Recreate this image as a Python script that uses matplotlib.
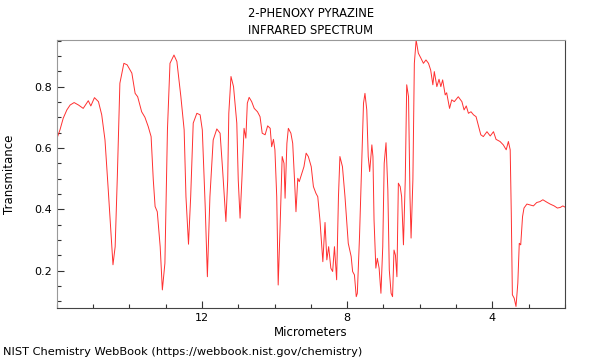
import matplotlib
matplotlib.use("Agg")
from matplotlib import pyplot as plt
from matplotlib.ticker import MultipleLocator, FixedLocator

title_lines = ["2-PHENOXY PYRAZINE", "INFRARED SPECTRUM"]
x_label = "Micrometers"
y_label = "Transmitance"
footer = "NIST Chemistry WebBook (https://webbook.nist.gov/chemistry)"

# wavelength (micrometers) and transmittance
wavelength = [
    15.99, 15.91, 15.82, 15.72, 15.63, 15.52, 15.40, 15.27, 15.13, 15.06,
    14.96, 14.85, 14.76, 14.67, 14.58, 14.50, 14.45, 14.39, 14.33, 14.26,
    14.15, 14.06, 13.93, 13.84, 13.77, 13.66, 13.57, 13.48, 13.40, 13.34,
    13.29, 13.23, 13.15, 13.09, 13.02, 12.95, 12.88, 12.77, 12.69, 12.58,
    12.49, 12.44, 12.37, 12.31, 12.24, 12.14, 12.05, 11.99, 11.91, 11.85,
    11.78, 11.69, 11.59, 11.50, 11.43, 11.34, 11.29, 11.26, 11.20, 11.13,
    11.04, 11.00, 10.95, 10.90, 10.84, 10.79, 10.75, 10.70, 10.63, 10.56,
    10.47, 10.40, 10.34, 10.26, 10.19, 10.12, 10.08, 10.03, 9.99, 9.94,
    9.90, 9.85, 9.79, 9.74, 9.71, 9.66, 9.62, 9.55, 9.50, 9.45,
    9.41, 9.36, 9.32, 9.25, 9.19, 9.13, 9.07, 8.99, 8.93, 8.86,
    8.81, 8.75, 8.67, 8.61, 8.56, 8.51, 8.45, 8.40, 8.35, 8.29,
    8.24, 8.20, 8.13, 8.06, 7.97, 7.89, 7.85, 7.80, 7.75, 7.72,
    7.66, 7.60, 7.55, 7.51, 7.46, 7.42, 7.38, 7.32, 7.29, 7.26,
    7.21, 7.17, 7.12, 7.07, 7.02, 6.98, 6.93, 6.88, 6.84, 6.79,
    6.75, 6.71, 6.67, 6.63, 6.59, 6.54, 6.50, 6.45, 6.40, 6.36,
    6.31, 6.27, 6.24, 6.19, 6.15, 6.10, 6.04, 5.97, 5.90, 5.83,
    5.76, 5.70, 5.64, 5.60, 5.53, 5.47, 5.42, 5.37, 5.30, 5.26,
    5.18, 5.12, 5.05, 4.94, 4.84, 4.78, 4.72, 4.66, 4.59, 4.52,
    4.45, 4.39, 4.32, 4.25, 4.15, 4.06, 3.97, 3.90, 3.79, 3.70,
    3.62, 3.56, 3.51, 3.48, 3.45, 3.40, 3.35, 3.30, 3.26, 3.22,
    3.17, 3.13, 3.05, 2.96, 2.87, 2.78, 2.69, 2.61, 2.50, 2.41,
    2.30, 2.21, 2.13, 2.06, 2.00,
]
transmittance = [
    0.632, 0.659, 0.697, 0.724, 0.740, 0.748, 0.740, 0.729, 0.754, 0.737,
    0.764, 0.751, 0.708, 0.626, 0.463, 0.311, 0.219, 0.278, 0.507, 0.811,
    0.876, 0.871, 0.844, 0.778, 0.767, 0.718, 0.700, 0.670, 0.637, 0.496,
    0.409, 0.392, 0.278, 0.137, 0.224, 0.659, 0.876, 0.903, 0.882, 0.767,
    0.659, 0.441, 0.286, 0.441, 0.681, 0.713, 0.708, 0.659, 0.409, 0.180,
    0.441, 0.626, 0.662, 0.648, 0.528, 0.360, 0.496, 0.713, 0.833, 0.800,
    0.681, 0.496, 0.371, 0.496, 0.664, 0.632, 0.746, 0.765, 0.751, 0.729,
    0.718, 0.702, 0.648, 0.643, 0.672, 0.664, 0.604, 0.628, 0.594, 0.441,
    0.153, 0.333, 0.572, 0.550, 0.436, 0.615, 0.664, 0.648, 0.615, 0.496,
    0.392, 0.501, 0.490, 0.517, 0.539, 0.583, 0.572, 0.539, 0.474, 0.452,
    0.441, 0.365, 0.229, 0.357, 0.235, 0.278, 0.208, 0.197, 0.278, 0.170,
    0.441, 0.572, 0.539, 0.441, 0.289, 0.246, 0.197, 0.186, 0.115, 0.126,
    0.311, 0.550, 0.746, 0.778, 0.724, 0.572, 0.523, 0.610, 0.572, 0.365,
    0.208, 0.240, 0.208, 0.126, 0.278, 0.550, 0.617, 0.463, 0.202, 0.126,
    0.115, 0.267, 0.250, 0.180, 0.485, 0.474, 0.441, 0.284, 0.496, 0.806,
    0.767, 0.441, 0.306, 0.496, 0.876, 0.952, 0.909, 0.893, 0.876, 0.887,
    0.876, 0.854, 0.806, 0.849, 0.800, 0.824, 0.800, 0.822, 0.773, 0.780,
    0.729, 0.757, 0.751, 0.767, 0.751, 0.724, 0.737, 0.713, 0.718, 0.708,
    0.702, 0.675, 0.643, 0.637, 0.653, 0.639, 0.653, 0.628, 0.621, 0.610,
    0.594, 0.621, 0.594, 0.387, 0.121, 0.110, 0.083, 0.159, 0.289, 0.284,
    0.376, 0.404, 0.417, 0.414, 0.411, 0.422, 0.425, 0.431, 0.423, 0.417,
    0.411, 0.404, 0.406, 0.411, 0.407,
]

fig = plt.figure(figsize=(6, 3.6), dpi=100)
ax = fig.add_axes([0.0945, 0.1436, 0.8472, 0.7461])

ax.plot(wavelength, transmittance, color="#ff3030", lw=0.7)

ax.set_xlim(16, 2)
ax.set_ylim(0.077, 0.953)

ax.xaxis.set_major_locator(FixedLocator([12, 8, 4]))
ax.xaxis.set_minor_locator(MultipleLocator(1))
ax.yaxis.set_major_locator(MultipleLocator(0.2))
ax.yaxis.set_minor_locator(MultipleLocator(0.05))
ax.tick_params(which="both", direction="in", labelsize=8, colors="#333333",
               labelcolor="black")
ax.tick_params(which="major", length=5, width=0.8)
ax.tick_params(which="minor", length=3, width=0.8)

ax.spines["top"].set_color("#999999")
ax.spines["left"].set_color("#999999")
ax.spines["bottom"].set_color("#444444")
ax.spines["right"].set_color("#444444")

ax.set_xlabel(x_label, fontsize=8.5, labelpad=2)
ax.set_ylabel(y_label, fontsize=8.5, labelpad=13)

fig.text(0.518, 0.962, title_lines[0], ha="center", va="center", fontsize=8.3)
fig.text(0.518, 0.915, title_lines[1], ha="center", va="center", fontsize=8.3)
fig.text(0.005, 0.022, footer, ha="left", va="center", fontsize=8.2)

fig.savefig("out.png", dpi=100)
